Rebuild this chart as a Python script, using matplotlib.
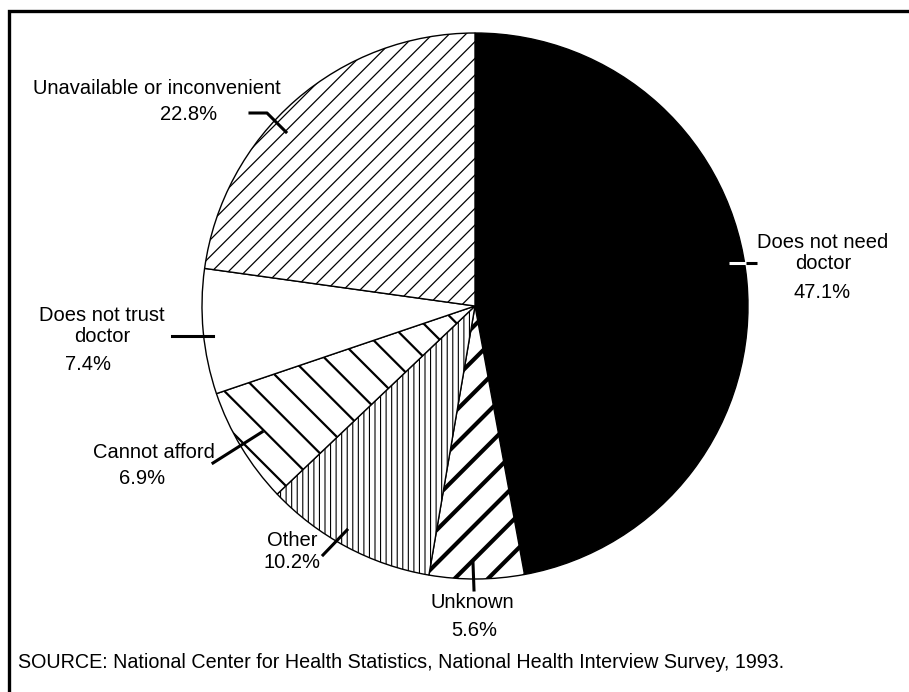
import matplotlib
matplotlib.use("Agg")
import matplotlib.pyplot as plt

plt.rcParams['font.family'] = ['Liberation Sans', 'DejaVu Sans']

# slices, clockwise from 12 o'clock
categories = ["Does not need doctor", "Unknown", "Other", "Cannot afford",
              "Does not trust doctor", "Unavailable or inconvenient"]
shares = [47.1, 5.6, 10.2, 6.9, 7.4, 22.8]
label_texts = ["Does not need\ndoctor", "Unknown", "Other", "Cannot afford",
               "Does not trust\ndoctor", "Unavailable or inconvenient"]
pct_texts = ["47.1%", "5.6%", "10.2%", "6.9%", "7.4%", "22.8%"]
source = "SOURCE: National Center for Health Statistics, National Health Interview Survey, 1993."

W, H = 909, 692
fig = plt.figure(figsize=(W / 100, H / 100), dpi=100)
ax = fig.add_axes([0, 0, 1, 1])


def Y(y):
    # image rows (top-down) -> axes units (bottom-up)
    return H - y


wedges, _ = ax.pie(shares, startangle=90, counterclock=False,
                   center=(475, Y(306)), radius=273,
                   wedgeprops=dict(edgecolor='black', linewidth=1.0))

fills = ['black', 'white', 'white', 'white', 'white', 'white']
hatches = [None, '/', '|||', '\\', None, '//']
for w, fc, h in zip(wedges, fills, hatches):
    w.set_facecolor(fc)
    if h:
        w.set_hatch(h)
if hasattr(wedges[1], 'set_hatch_linewidth'):
    wedges[1].set_hatch_linewidth(3.0)
    wedges[2].set_hatch_linewidth(0.8)
    wedges[3].set_hatch_linewidth(1.6)
    wedges[5].set_hatch_linewidth(0.9)

ax.set_xlim(0, W)
ax.set_ylim(0, H)
ax.set_aspect('auto')
ax.axis('off')

fs = 14.5
# labels: (x, y of name, x, y of percent)
label_pos = [(823, 253, 822, 292), (472, 603, 474, 630), (292, 540, 292, 563),
             (154, 452, 142, 478), (102, 326, 88, 365), (157, 88, 189, 115)]
for txt, pct, (lx, ly, px, py) in zip(label_texts, pct_texts, label_pos):
    ax.text(lx, Y(ly), txt, ha='center', va='center', fontsize=fs,
            linespacing=1.1)
    ax.text(px, Y(py), pct, ha='center', va='center', fontsize=fs)

# leader lines
lw = 2.2
ax.plot([729, 746], [Y(263), Y(263)], color='white', lw=lw, solid_capstyle='butt')
ax.plot([746, 757], [Y(263), Y(263)], color='black', lw=lw, solid_capstyle='butt')
ax.plot([473, 474], [Y(563), Y(590)], color='black', lw=lw)
ax.plot([323, 347], [Y(555), Y(530)], color='black', lw=lw)
ax.plot([213, 262], [Y(463), Y(432)], color='black', lw=lw)
ax.plot([172, 213], [Y(336), Y(336)], color='black', lw=lw)
ax.plot([250, 267, 286], [Y(113), Y(113), Y(132)], color='black', lw=lw)

ax.text(18, Y(662), source, ha='left', va='center', fontsize=14.2)

# frame (top and left edges)
ax.plot([9, 9, W], [0, Y(11), Y(11)], color='black', lw=2.4,
        solid_joinstyle='miter')

fig.savefig("out.png", dpi=100)
